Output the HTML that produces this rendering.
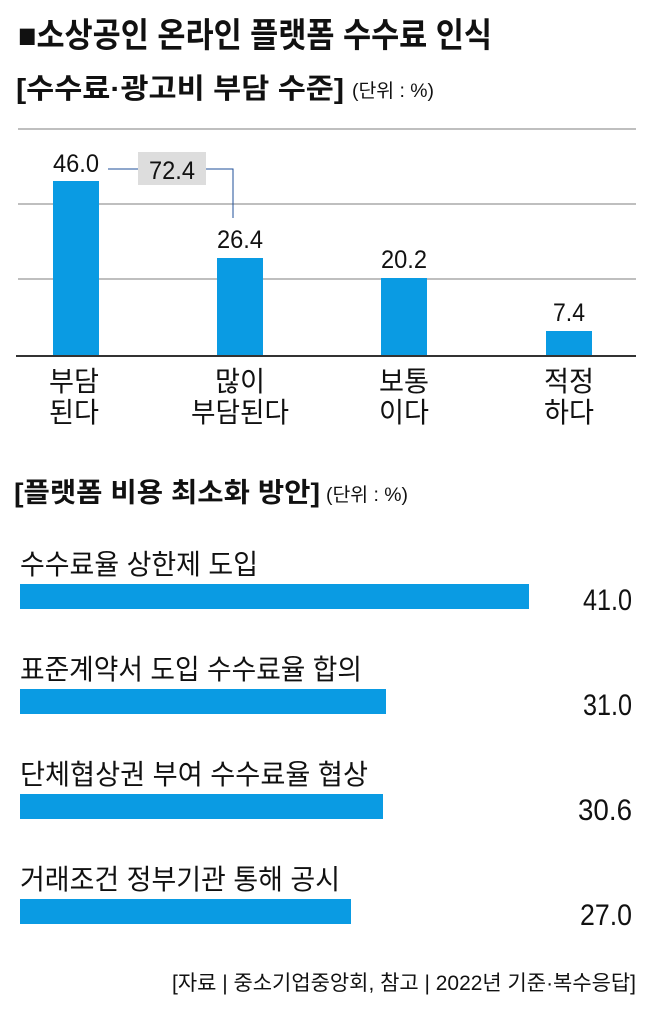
<!DOCTYPE html>
<html><head><meta charset="utf-8"><style>
html,body{margin:0;padding:0;background:#fff;}
svg{display:block;}
text{font-family:"Liberation Sans","Noto Sans CJK KR",sans-serif;fill:#111;}
</style></head><body>
<svg width="658" height="1012" viewBox="0 0 658 1012" xmlns="http://www.w3.org/2000/svg">
<rect width="658" height="1012" fill="#fff"/>
<text x="18" y="47" font-size="34" font-weight="bold" textLength="474" lengthAdjust="spacingAndGlyphs">■소상공인 온라인 플랫폼 수수료 인식</text>
<text x="16" y="98" font-size="28" font-weight="bold" textLength="328" lengthAdjust="spacingAndGlyphs">[수수료·광고비 부담 수준]</text>
<text x="352" y="97" font-size="19" textLength="82" lengthAdjust="spacingAndGlyphs">(단위 : %)</text>
<g stroke="#999" stroke-width="1.2">
<line x1="18" y1="129" x2="636" y2="129"/>
<line x1="18" y1="204" x2="636" y2="204"/>
<line x1="18" y1="279" x2="636" y2="279"/>
</g>
<line x1="16" y1="356" x2="636" y2="356" stroke="#333" stroke-width="2"/>
<g fill="#0a9be3">
<rect x="53" y="181" width="46" height="174"/>
<rect x="217" y="258" width="46" height="97"/>
<rect x="381" y="278" width="46" height="77"/>
<rect x="546" y="331" width="46" height="24"/>
</g>
<rect x="138" y="152" width="68" height="33" fill="#ddd"/>
<polyline points="108,169 138,169" fill="none" stroke="#1f4f99" stroke-width="1"/>
<polyline points="206,169 233,169 233,218" fill="none" stroke="#1f4f99" stroke-width="1"/>
<g font-size="25" text-anchor="middle">
<text x="76" y="172" textLength="46" lengthAdjust="spacingAndGlyphs">46.0</text>
<text x="172" y="179" textLength="46" lengthAdjust="spacingAndGlyphs">72.4</text>
<text x="240" y="248" textLength="46" lengthAdjust="spacingAndGlyphs">26.4</text>
<text x="404" y="268" textLength="46" lengthAdjust="spacingAndGlyphs">20.2</text>
<text x="569" y="321" textLength="32" lengthAdjust="spacingAndGlyphs">7.4</text>
</g>
<g font-size="28" text-anchor="middle">
<text x="74" y="391" textLength="50" lengthAdjust="spacingAndGlyphs">부담</text>
<text x="74" y="422" textLength="50" lengthAdjust="spacingAndGlyphs">된다</text>
<text x="240" y="391" textLength="50" lengthAdjust="spacingAndGlyphs">많이</text>
<text x="240" y="422" textLength="98" lengthAdjust="spacingAndGlyphs">부담된다</text>
<text x="404" y="391" textLength="50" lengthAdjust="spacingAndGlyphs">보통</text>
<text x="404" y="422" textLength="50" lengthAdjust="spacingAndGlyphs">이다</text>
<text x="569" y="391" textLength="50" lengthAdjust="spacingAndGlyphs">적정</text>
<text x="569" y="422" textLength="50" lengthAdjust="spacingAndGlyphs">하다</text>
</g>
<text x="14" y="502" font-size="27" font-weight="bold" textLength="306" lengthAdjust="spacingAndGlyphs">[플랫폼 비용 최소화 방안]</text>
<text x="326" y="501" font-size="19" textLength="82" lengthAdjust="spacingAndGlyphs">(단위 : %)</text>
<g fill="#0a9be3">
<rect x="20" y="584" width="509" height="25"/>
<rect x="20" y="689" width="366" height="25"/>
<rect x="20" y="794" width="363" height="25"/>
<rect x="20" y="899" width="331" height="25"/>
</g>
<g font-size="28">
<text x="20" y="574" textLength="238" lengthAdjust="spacingAndGlyphs">수수료율 상한제 도입</text>
<text x="20" y="679" textLength="342" lengthAdjust="spacingAndGlyphs">표준계약서 도입 수수료율 합의</text>
<text x="20" y="784" textLength="348" lengthAdjust="spacingAndGlyphs">단체협상권 부여 수수료율 협상</text>
<text x="20" y="889" textLength="320" lengthAdjust="spacingAndGlyphs">거래조건 정부기관 통해 공시</text>
</g>
<g font-size="30" text-anchor="end">
<text x="632" y="610" textLength="49" lengthAdjust="spacingAndGlyphs">41.0</text>
<text x="632" y="715" textLength="49" lengthAdjust="spacingAndGlyphs">31.0</text>
<text x="632" y="820" textLength="54" lengthAdjust="spacingAndGlyphs">30.6</text>
<text x="632" y="925" textLength="52" lengthAdjust="spacingAndGlyphs">27.0</text>
</g>
<text x="636" y="990" font-size="21" text-anchor="end" textLength="464" lengthAdjust="spacingAndGlyphs">[자료 | 중소기업중앙회, 참고 | 2022년 기준·복수응답]</text>
</svg>
</body></html>
